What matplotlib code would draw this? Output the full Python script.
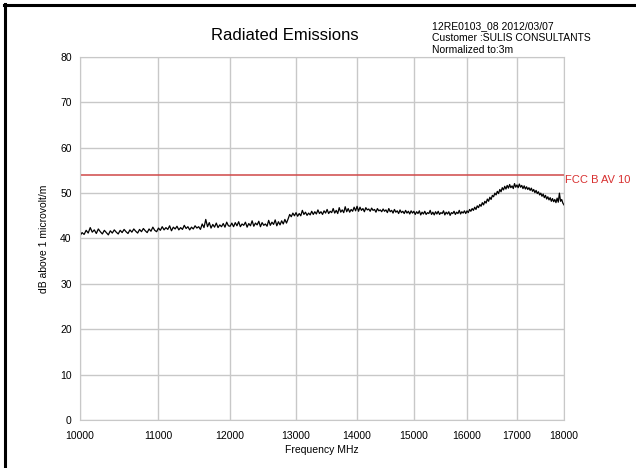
import numpy as np
import matplotlib
matplotlib.use("Agg")
import matplotlib.pyplot as plt
from matplotlib.lines import Line2D
from matplotlib.ticker import FixedLocator, NullLocator

plt.rcParams['font.family'] = ['Liberation Sans', 'DejaVu Sans']

# sweep grid, 25 MHz steps
freq = np.arange(10000, 18001, 25)

level = [
    # 10000 - 10975
    40.6, 41.3, 40.9, 41.8, 41.2, 42.4, 41.4, 41.9, 41.1, 42.1,
    41.5, 41.0, 41.8, 41.3, 40.8, 41.7, 41.2, 41.9, 41.4, 41.0,
    41.8, 41.3, 42.0, 41.5, 41.1, 41.9, 41.4, 42.1, 41.6, 41.2,
    42.0, 41.5, 42.2, 41.7, 41.3, 42.1, 41.6, 42.5, 41.8, 41.5,
    # 11000 - 11975
    42.3, 41.8, 42.6, 41.9, 42.4, 42.0, 42.8, 41.7, 42.5, 42.1,
    42.7, 41.9, 42.4, 42.0, 42.9, 42.2, 42.6, 41.9, 42.5, 42.1,
    42.8, 42.3, 42.6, 42.0, 43.2, 42.4, 44.2, 42.6, 43.5, 42.3,
    43.1, 42.5, 43.4, 42.4, 43.0, 42.6, 43.3, 42.5, 43.6, 42.8,
    # 12000 - 12850
    42.7, 43.4, 42.6, 43.5, 42.8, 43.7, 42.6, 43.2, 42.9, 43.6,
    42.5, 43.3, 42.8, 43.9, 42.7, 43.4, 43.0, 43.8, 42.6, 43.5,
    42.9, 43.2, 42.7, 44.0, 42.9, 43.6, 43.1, 44.1, 42.8, 43.7,
    43.0, 43.9, 43.2, 44.2, 43.4,
    # 12875 - 12975
    44.3, 45.3, 44.8, 45.6, 45.0,
    # 13000 - 13975
    45.7, 44.9, 45.5, 45.0, 46.2, 45.3, 45.8, 45.1, 45.6, 45.2,
    46.0, 45.3, 45.9, 45.4, 46.3, 45.5, 45.9, 45.3, 46.1, 45.6,
    46.4, 45.5, 46.0, 45.7, 46.6, 45.6, 46.2, 45.5, 46.8, 45.8,
    46.3, 45.7, 47.0, 45.9, 46.6, 45.8, 46.4, 46.0, 46.9, 46.1,
    # 14000 - 14975
    47.1, 46.0, 46.9, 46.2, 46.6, 45.9, 46.8, 46.3, 46.5, 46.0,
    46.7, 46.2, 46.4, 45.8, 46.6, 46.1, 46.3, 45.9, 46.5, 46.0,
    46.3, 45.7, 46.6, 45.9, 46.2, 45.6, 46.4, 45.8, 46.1, 45.5,
    46.3, 45.7, 46.0, 45.5, 46.2, 45.6, 46.0, 45.4, 46.1, 45.6,
    # 15000 - 15975
    46.0, 45.3, 45.9, 45.5, 46.1, 45.2, 45.8, 45.4, 46.0, 45.3,
    45.7, 45.5, 46.2, 45.3, 45.8, 45.2, 45.9, 45.4, 46.0, 45.3,
    45.7, 45.5, 46.1, 45.2, 45.8, 45.4, 45.9, 45.1, 45.7, 45.5,
    46.0, 45.3, 45.8, 45.5, 46.2, 45.4, 45.9, 45.6, 46.1, 45.5,
    # 16000 - 16975
    46.1, 45.7, 46.4, 46.0, 46.6, 46.2, 46.9, 46.4, 47.2, 46.8,
    47.5, 47.1, 47.9, 47.4, 48.2, 47.8, 48.7, 48.2, 49.1, 48.6,
    49.5, 49.2, 50.0, 49.6, 50.4, 49.9, 50.8, 50.3, 51.2, 50.7,
    51.5, 50.9, 51.7, 51.1, 51.9, 51.2, 51.6, 51.0, 52.1, 51.3,
    # 17000 - 18000
    51.8, 51.2, 52.0, 51.3, 51.7, 51.0, 51.6, 50.9, 51.4, 50.8,
    51.2, 50.6, 51.1, 50.4, 50.8, 50.1, 50.6, 49.9, 50.3, 49.6,
    50.0, 49.3, 49.8, 49.0, 49.5, 48.7, 49.2, 48.5, 49.0, 48.2,
    48.8, 48.1, 48.6, 47.9, 48.9, 48.0, 50.0, 48.2, 48.6, 47.8,
    47.4,
]

limit_value = 54
limit_name = "FCC B AV 10"
x_ticks = [10000, 11000, 12000, 13000, 14000, 15000, 16000, 17000, 18000]
y_ticks = [0, 10, 20, 30, 40, 50, 60, 70, 80]
info_lines = ["12RE0103_08 2012/03/07", "Customer :SULIS CONSULTANTS", "Normalized to:3m"]

W, H = 636, 468
fig = plt.figure(figsize=(W / 100, H / 100), dpi=100)
ax = fig.add_axes([80 / W, 1 - 420 / H, (564 - 80) / W, (420 - 57) / H])

grid_col = '#c8c8c8'
ax.plot(freq, level, color='black', lw=0.9)
ax.axhline(limit_value, color='#d04848', lw=1.1)

ax.set_xscale('log')
ax.set_xlim(10000, 18000)
ax.set_ylim(0, 80)
ax.xaxis.set_major_locator(FixedLocator(x_ticks))
ax.xaxis.set_minor_locator(NullLocator())
ax.set_xticklabels([str(t) for t in x_ticks])
ax.set_yticks(y_ticks)
ax.tick_params(length=0, labelsize=7.5, pad=6)
ax.tick_params(axis='x', pad=8)
ax.grid(True, color=grid_col, lw=1)
for s in ax.spines.values():
    s.set_color(grid_col)

ax.set_xlabel("Frequency MHz", fontsize=7.5, labelpad=3)
ax.set_ylabel("dB above 1 microvolt/m", fontsize=7.5, labelpad=8)

ax.text(1.002, limit_value, limit_name, transform=ax.get_yaxis_transform(),
        color='#d83030', fontsize=8, va='top', ha='left')

fig.text(285 / W, 1 - 36 / H, "Radiated Emissions", fontsize=12, ha='center', va='center')
for i, line in enumerate(info_lines):
    fig.text(432 / W, 1 - (26 + 12 * i) / H, line, fontsize=7.5, ha='left', va='center')

# frame on left and top
fig.add_artist(Line2D([4.7 / W, 4.7 / W], [0, 1 - 4 / H], color='black', lw=2.2, transform=fig.transFigure))
fig.add_artist(Line2D([3.7 / W, 1], [1 - 5.3 / H, 1 - 5.3 / H], color='black', lw=2.2, transform=fig.transFigure))

fig.savefig("out.png", dpi=100)
